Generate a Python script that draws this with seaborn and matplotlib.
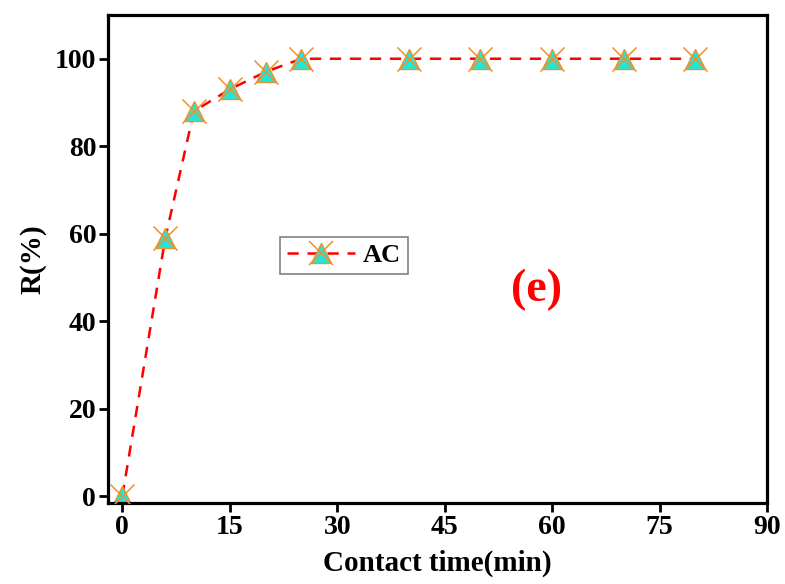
import pandas as pd
import matplotlib.pyplot as plt
import seaborn as sns
from matplotlib.lines import Line2D
from matplotlib.legend_handler import HandlerTuple

time_min = [0, 6, 10, 15, 20, 25, 40, 50, 60, 70, 80]
removal = [0, 59, 88, 93, 97, 100, 100, 100, 100, 100, 100]
series_name = 'AC'
x_ticks = [0, 15, 30, 45, 60, 75, 90]
y_ticks = [0, 20, 40, 60, 80, 100]

df = pd.DataFrame({'t': time_min, 'R': removal})

sns.set_style('ticks')
plt.rcParams['font.family'] = ['Liberation Serif', 'DejaVu Serif']
plt.rcParams['font.weight'] = 'bold'
plt.rcParams['text.color'] = 'black'
plt.rcParams['axes.labelcolor'] = 'black'
plt.rcParams['xtick.color'] = 'black'
plt.rcParams['ytick.color'] = 'black'

fig = plt.figure(figsize=(7.85, 5.84), dpi=100)
ax = fig.add_axes([0.1376, 0.1387, 0.8394, 0.8356])

dash = (0, (4.5, 3.5))
cyan = '#1ee8dc'
orange = '#f0902a'
sns.lineplot(data=df, x='t', y='R', ax=ax, color='red', lw=1.8,
             dashes=False, linestyle=dash, marker='^', markersize=15,
             markerfacecolor=cyan, markeredgecolor=orange, markeredgewidth=1.0)
sns.scatterplot(data=df, x='t', y='R', ax=ax, marker='x', s=300,
                color=orange, linewidth=1.1, zorder=5)

ax.set_xlim(-2, 90)
ax.set_ylim(-1.6, 110)
ax.set_xticks(x_ticks)
ax.set_yticks(y_ticks)
ax.tick_params(axis='both', direction='out', length=6.5, width=2, labelsize=20, pad=2)
for lab in ax.get_xticklabels() + ax.get_yticklabels():
    lab.set_fontweight('bold')
for sp in ax.spines.values():
    sp.set_linewidth(2.3)
    sp.set_color('black')
    sp.set_visible(True)

ax.set_xlabel('Contact time(min)', fontsize=21, fontweight='bold', labelpad=7)
ax.set_ylabel('R(%)', fontsize=21, fontweight='bold', labelpad=6)

h_line = Line2D([], [], color='red', lw=1.8, linestyle=dash, marker='^',
                markersize=15, markerfacecolor=cyan, markeredgecolor=orange,
                markeredgewidth=1.0)
h_x = Line2D([], [], color=orange, lw=0, marker='x', markersize=17, markeredgewidth=1.1)
leg = ax.legend([(h_line, h_x)], [series_name], handler_map={tuple: HandlerTuple(ndivide=1)},
                loc='upper left', bbox_to_anchor=(0.261, 0.545), fancybox=False,
                edgecolor='gray', framealpha=1, handlelength=2.6, handletextpad=0.3,
                borderpad=0.25, borderaxespad=0, prop={'weight': 'bold', 'size': 19})
leg.get_frame().set_linewidth(1.2)

ax.text(0.651, 0.436, '(e)', transform=ax.transAxes, color='red',
        fontsize=33, fontweight='bold', ha='center', va='center')

fig.savefig('out.png', dpi=100)
